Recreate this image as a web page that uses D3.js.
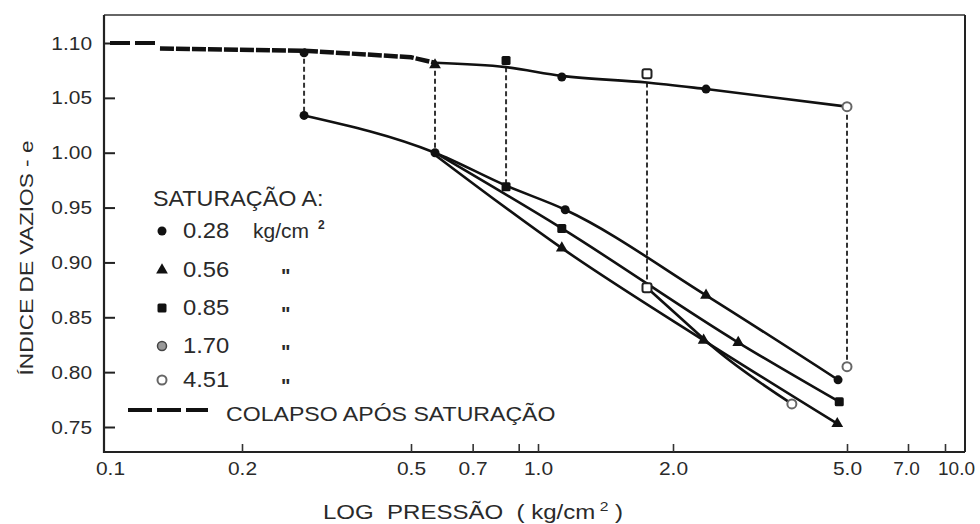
<!DOCTYPE html>
<html><head><meta charset="utf-8">
<script src="https://cdn.jsdelivr.net/npm/d3@7"></script>
<style>
html,body{margin:0;padding:0;background:#fff;}
svg{display:block;}
text{font-family:"Liberation Sans",Arial,sans-serif;fill:#2a2a2a;}
</style></head><body>
<svg id="c" width="980" height="524"></svg>
<script>
// ---------- data ----------
const xTickValues = [0.1, 0.2, 0.5, 0.7, 0.9, 1, 2, 5, 7, 10];
const xTickLabels = ["0.1", "0.2", "0.5", "0.7", "", "1.0", "2.0", "5.0", "7.0", "10.0"];
const yTickValues = [0.75, 0.80, 0.85, 0.90, 0.95, 1.00, 1.05, 1.10];
const yTickLabels = ["0.75", "0.80", "0.85", "0.90", "0.95", "1.00", "1.05", "1.10"];

// unsaturated (natural moisture) compression path
const topDashP = [0.1, 0.128];
const topDashE = [1.100, 1.100];
const topThickP = [0.13, 0.28, 0.50, 0.57];
const topThickE = [1.095, 1.093, 1.087, 1.082];
const topLineP = [0.57, 0.84, 1.13, 1.75, 2.38, 5.0];
const topLineE = [1.082, 1.078, 1.070, 1.064, 1.058, 1.042];

// collapse on saturation (vertical dashed drops)
const collapseP = [0.28, 0.57, 0.84, 1.75, 5.0];
const collapseFromE = [1.093, 1.082, 1.078, 1.064, 1.042];
const collapseToE = [1.034, 1.000, 0.969, 0.877, 0.805];

// post-saturation compression curves
const sat028P = [0.28, 0.57, 0.84, 1.15, 2.38, 4.77];
const sat028E = [1.034, 1.000, 0.970, 0.948, 0.870, 0.793];
const sat056P = [0.57, 1.13, 2.35, 4.75];
const sat056E = [0.998, 0.913, 0.829, 0.753];
const sat085P = [0.57, 1.13, 2.82, 4.8];
const sat085E = [1.000, 0.931, 0.827, 0.773];
const sat170P = [1.75, 2.1, 2.5, 3.74];
const sat170E = [0.877, 0.848, 0.821, 0.771];

// markers [pressure, e]
const dotPts = [[0.28, 1.091], [1.13, 1.069], [2.38, 1.058], [0.28, 1.034], [0.57, 1.000], [1.15, 0.948], [4.77, 0.793]];
const triPts = [[0.57, 1.080], [2.38, 0.870], [1.13, 0.913], [2.35, 0.829], [4.75, 0.753], [2.82, 0.827]];
const sqPts = [[0.84, 1.084], [0.84, 0.969], [1.13, 0.931], [4.8, 0.773]];
const openSqPts = [[1.75, 1.072], [1.75, 0.877]];
const openCircPts = [[5.0, 1.042], [5.0, 0.805], [3.74, 0.771]];

const legendTitle = "SATURAÇÃO A:";
const legendLabels = ["0.28", "0.56", "0.85", "1.70", "4.51"];
const legendShapes = ["dot", "tri", "sq", "gray", "ocirc"];
const legendUnits = ["kg/cm", "\"", "\"", "\"", "\""];
const collapseLabel = "COLAPSO APÓS SATURAÇÃO";
const xTitleMain = "LOG  PRESSÃO  ( kg/cm";
const xTitleSup = "2";
const xTitleEnd = " )";
const yTitle = "ÍNDICE DE VAZIOS - e";

// ---------- layout ----------
const svg = d3.select("#c");
const L = 104, R = 965, T = 15, B = 452;
const ink = "#111";

const x = d3.scaleLog()
  .domain([0.1, 0.2, 0.5, 1, 2, 5, 7, 10])
  .range([110, 242, 411, 538, 673, 847, 908, 945]);
const y = d3.scaleLinear().domain([0.75, 1.10]).range([427, 43]);

function stretch(sel, f) {
  sel.each(function () {
    const w = this.getComputedTextLength();
    if (w > 0) {
      this.setAttribute("textLength", (w * f).toFixed(1));
      this.setAttribute("lengthAdjust", "spacingAndGlyphs");
    }
  });
}

// frame
svg.append("line").attr("x1", L).attr("x2", R).attr("y1", T).attr("y2", T)
  .attr("stroke", "#666").attr("stroke-width", 2);
svg.append("line").attr("x1", R).attr("x2", R).attr("y1", T).attr("y2", B)
  .attr("stroke", "#222").attr("stroke-width", 2);
svg.append("line").attr("x1", L).attr("x2", R).attr("y1", B).attr("y2", B)
  .attr("stroke", "#222").attr("stroke-width", 2);
svg.append("line").attr("x1", L).attr("x2", L).attr("y1", T).attr("y2", B + 1)
  .attr("stroke", "#222").attr("stroke-width", 2.2);

// axes
const gy = svg.append("g").attr("transform", `translate(${L},0)`)
  .call(d3.axisLeft(y).tickValues(yTickValues)
    .tickFormat((d, i) => yTickLabels[i]).tickSize(-11).tickPadding(12));
gy.select(".domain").remove();
gy.selectAll(".tick line").attr("stroke", "#222").attr("stroke-width", 2);
gy.selectAll(".tick text").attr("font-size", 19).attr("fill", "#2a2a2a")
  .style("font-family", '"Liberation Sans", Arial, sans-serif');
stretch(gy.selectAll(".tick text"), 1.1);

const gx = svg.append("g").attr("transform", `translate(0,${B})`)
  .call(d3.axisBottom(x).tickValues(xTickValues)
    .tickFormat((d, i) => xTickLabels[i]).tickSize(-8).tickPadding(10));
gx.select(".domain").remove();
gx.selectAll(".tick line").attr("stroke", "#333").attr("stroke-width", 1.6);
gx.selectAll(".tick").filter(d => d === 0.1).select("line").remove();
gx.selectAll(".tick text").attr("font-size", 19).attr("fill", "#2a2a2a")
  .style("font-family", '"Liberation Sans", Arial, sans-serif');
stretch(gx.selectAll(".tick text").filter(d => d < 7), 1.1);
gx.selectAll(".tick text").filter(d => d === 10).attr("dx", 11);
gx.selectAll(".tick text").filter(d => d === 7).attr("dx", -2);

// titles
const xt = svg.append("text").attr("x", 473).attr("y", 519).attr("text-anchor", "middle")
  .attr("font-size", 20).style("white-space", "pre");
xt.append("tspan").text(xTitleMain);
xt.append("tspan").attr("dy", -8).attr("font-size", 13).text(" " + xTitleSup);
xt.append("tspan").attr("dy", 8).text(xTitleEnd);
xt.attr("textLength", 300).attr("lengthAdjust", "spacingAndGlyphs");

svg.append("text").attr("transform", "translate(33,258) rotate(-90)")
  .attr("text-anchor", "middle").attr("font-size", 18)
  .attr("textLength", 235).attr("lengthAdjust", "spacingAndGlyphs")
  .text(yTitle);

// ---------- curves ----------
const pairs = (P, E) => P.map((p, i) => [p, E[i]]);
const lineLin = d3.line().x(d => x(d[0])).y(d => y(d[1]));
const lineSmooth = d3.line().x(d => x(d[0])).y(d => y(d[1])).curve(d3.curveMonotoneX);

const plot = svg.append("g");

// collapse verticals
plot.selectAll("line.col").data(collapseP).join("line").attr("class", "col")
  .attr("x1", d => x(d)).attr("x2", d => x(d))
  .attr("y1", (d, i) => y(collapseFromE[i])).attr("y2", (d, i) => y(collapseToE[i]))
  .attr("stroke", "#333").attr("stroke-width", 2).attr("stroke-dasharray", "5,3");

plot.append("path").datum(pairs(topDashP, topDashE)).attr("d", lineLin)
  .attr("fill", "none").attr("stroke", ink).attr("stroke-width", 4).attr("stroke-dasharray", "20,5");
plot.append("path").datum(pairs(topThickP, topThickE)).attr("d", lineLin)
  .attr("fill", "none").attr("stroke", ink).attr("stroke-width", 4.5).attr("stroke-dasharray", "14,2");
plot.append("path").datum(pairs(topLineP, topLineE)).attr("d", lineSmooth)
  .attr("fill", "none").attr("stroke", ink).attr("stroke-width", 2.6);

[[sat028P, sat028E], [sat056P, sat056E], [sat085P, sat085E], [sat170P, sat170E]].forEach(([P, E]) => {
  plot.append("path").datum(pairs(P, E)).attr("d", lineSmooth)
    .attr("fill", "none").attr("stroke", ink).attr("stroke-width", 2.6);
});

// markers
function drawMarker(g, shape, cx, cy, s) {
  s = s || 1;
  if (shape === "dot") {
    g.append("circle").attr("cx", cx).attr("cy", cy).attr("r", 4.5 * s).attr("fill", ink);
  } else if (shape === "tri") {
    g.append("path").attr("d", d3.symbol(d3.symbolTriangle).size(60 * s * s)())
      .attr("transform", `translate(${cx},${cy})`).attr("fill", ink);
  } else if (shape === "sq") {
    g.append("rect").attr("x", cx - 4.5 * s).attr("y", cy - 4.5 * s).attr("width", 9 * s).attr("height", 9 * s)
      .attr("rx", 1.5).attr("fill", ink);
  } else if (shape === "osq") {
    g.append("rect").attr("x", cx - 4.5).attr("y", cy - 4.5).attr("width", 9).attr("height", 9)
      .attr("rx", 2).attr("fill", "#fff").attr("stroke", "#222").attr("stroke-width", 2);
  } else if (shape === "gray") {
    g.append("circle").attr("cx", cx).attr("cy", cy).attr("r", 4.5 * s)
      .attr("fill", "#999").attr("stroke", "#444").attr("stroke-width", 1.5);
  } else if (shape === "ocirc") {
    g.append("circle").attr("cx", cx).attr("cy", cy).attr("r", 4.5 * s)
      .attr("fill", "#fff").attr("stroke", "#666").attr("stroke-width", 2);
  }
}
const mg = svg.append("g");
dotPts.forEach(d => drawMarker(mg, "dot", x(d[0]), y(d[1])));
triPts.forEach(d => drawMarker(mg, "tri", x(d[0]), y(d[1])));
sqPts.forEach(d => drawMarker(mg, "sq", x(d[0]), y(d[1])));
openSqPts.forEach(d => drawMarker(mg, "osq", x(d[0]), y(d[1])));
openCircPts.forEach(d => drawMarker(mg, "ocirc", x(d[0]), y(d[1])));

// ---------- legend ----------
const lg = svg.append("g");
const lt = lg.append("text").attr("x", 153).attr("y", 206).attr("font-size", 22).text(legendTitle);
stretch(lt, 1.06);
const rowY = [238, 277, 315, 353, 387];
legendLabels.forEach((lab, i) => {
  const by = rowY[i];
  drawMarker(lg, legendShapes[i], 162, by - 7, 1);
  const t = lg.append("text").attr("x", 183).attr("y", by).attr("font-size", 22).text(lab);
  stretch(t, 1.08);
  if (i === 0) {
    const u = lg.append("text").attr("x", 253).attr("y", by).attr("font-size", 20).text(legendUnits[i]);
    stretch(u, 1.05);
    lg.append("text").attr("x", 318).attr("y", by - 9).attr("font-size", 12)
      .attr("font-weight", "bold").text("2");
  } else {
    lg.append("text").attr("x", 281).attr("y", by + 6).attr("font-size", 20)
      .attr("font-weight", "bold").attr("fill", "#555").text(legendUnits[i]);
  }
});
lg.append("line").attr("x1", 128).attr("x2", 208).attr("y1", 410).attr("y2", 410)
  .attr("stroke", ink).attr("stroke-width", 4).attr("stroke-dasharray", "24,5");
const cl = lg.append("text").attr("x", 226).attr("y", 421).attr("font-size", 21).text(collapseLabel);
stretch(cl, 1.1);
</script>
</body></html>
